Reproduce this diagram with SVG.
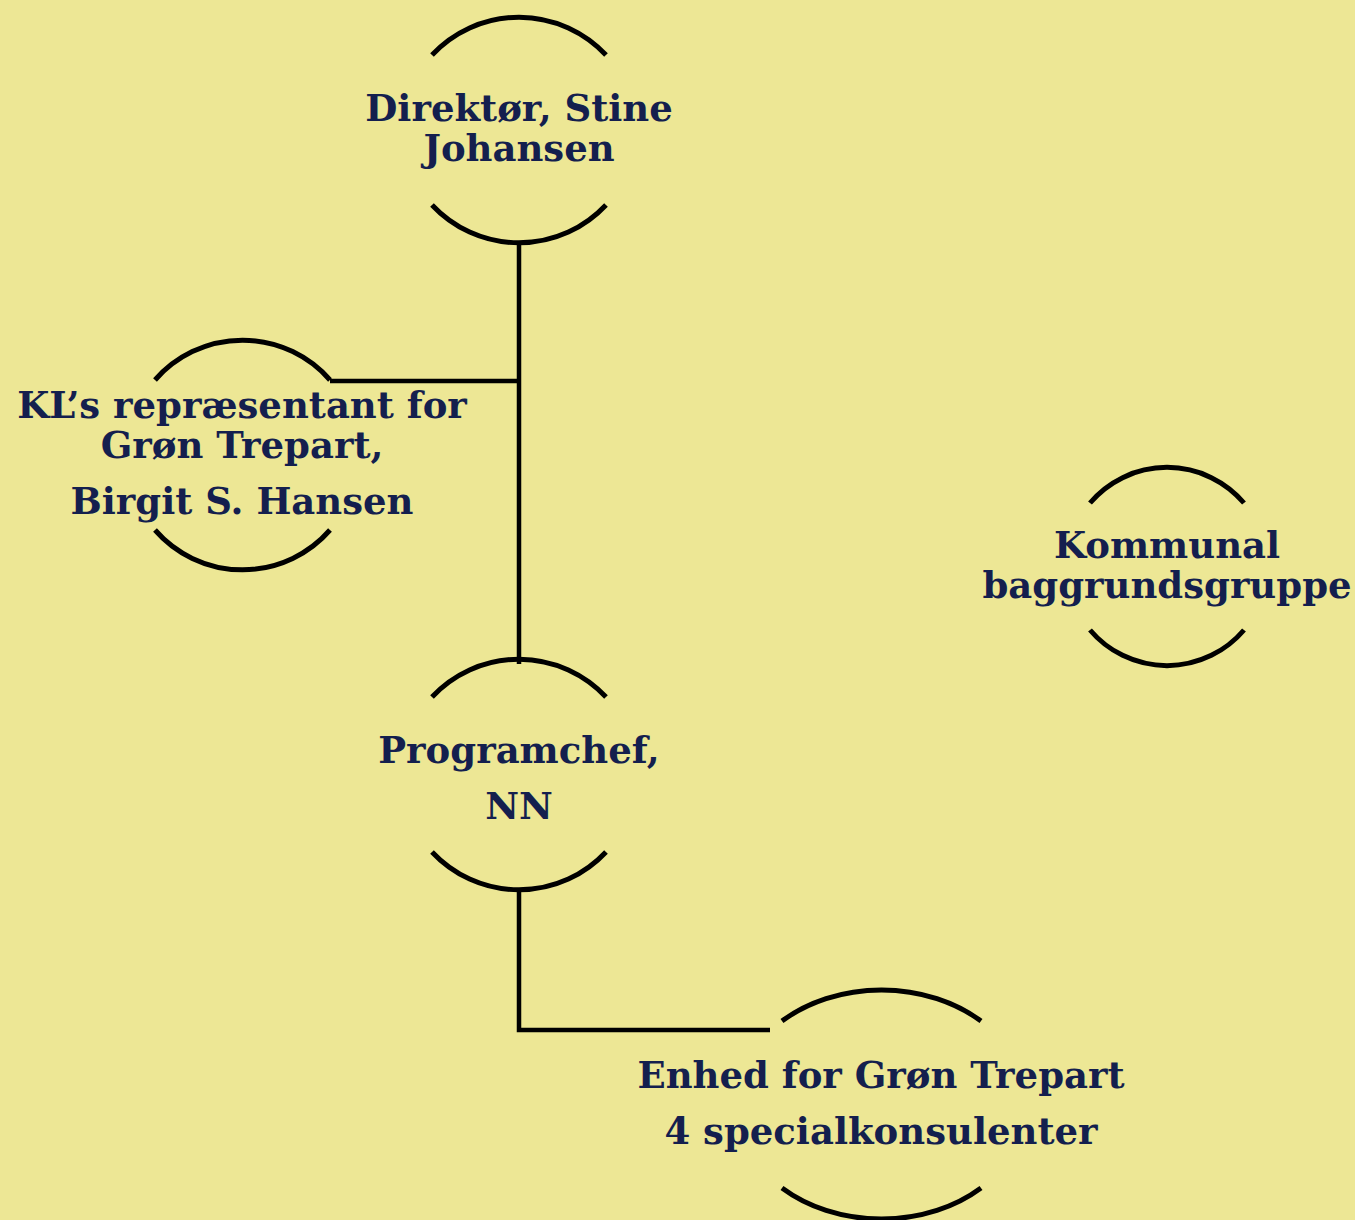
<svg xmlns="http://www.w3.org/2000/svg" width="1355" height="1220" viewBox="0 0 1355 1220">
<style>
.arc{fill:none;stroke:#000;stroke-width:5}
.con{fill:none;stroke:#000;stroke-width:4.5}
text{font-family:"DejaVu Serif","Liberation Serif",serif;font-weight:bold;font-size:37px;fill:#141f4e;text-anchor:middle}
</style>
<rect width="1355" height="1220" fill="#ede795"/>
<g id="connectors">
<path class="con" d="M519,242 V664"/>
<path class="con" d="M330,381 H519"/>
<path class="con" d="M519,890 V1030 H770"/>
</g>
<g id="director">
<path class="arc" d="M432,55 A119,119 0 0 1 606,55"/>
<path class="arc" d="M432,205 A119,119 0 0 0 606,205"/>
<text x="519" y="121">Direktør, Stine</text>
<text x="519" y="161">Johansen</text>
</g>
<g id="kl">
<path class="arc" d="M155,380 A116,116 0 0 1 330,380"/>
<path class="arc" d="M155,530 A116,116 0 0 0 330,530"/>
<text x="242" y="418">KL’s repræsentant for</text>
<text x="242" y="458">Grøn Trepart,</text>
<text x="242" y="514">Birgit S. Hansen</text>
</g>
<g id="kommunal">
<path class="arc" d="M1090,503 A101,101 0 0 1 1244,503"/>
<path class="arc" d="M1090,630 A101,101 0 0 0 1244,630"/>
<text x="1167" y="558">Kommunal</text>
<text x="1167" y="598">baggrundsgruppe</text>
</g>
<g id="programchef">
<path class="arc" d="M432,697 A119,119 0 0 1 606,697"/>
<path class="arc" d="M432,852 A119,119 0 0 0 606,852"/>
<text x="519" y="763">Programchef,</text>
<text x="519" y="819">NN</text>
</g>
<g id="enhed">
<path class="arc" d="M782,1021 A145,114 0 0 1 981,1021"/>
<path class="arc" d="M782,1188 A145,114 0 0 0 981,1188"/>
<text x="881" y="1088">Enhed for Grøn Trepart</text>
<text x="881" y="1144">4 specialkonsulenter</text>
</g>
</svg>
